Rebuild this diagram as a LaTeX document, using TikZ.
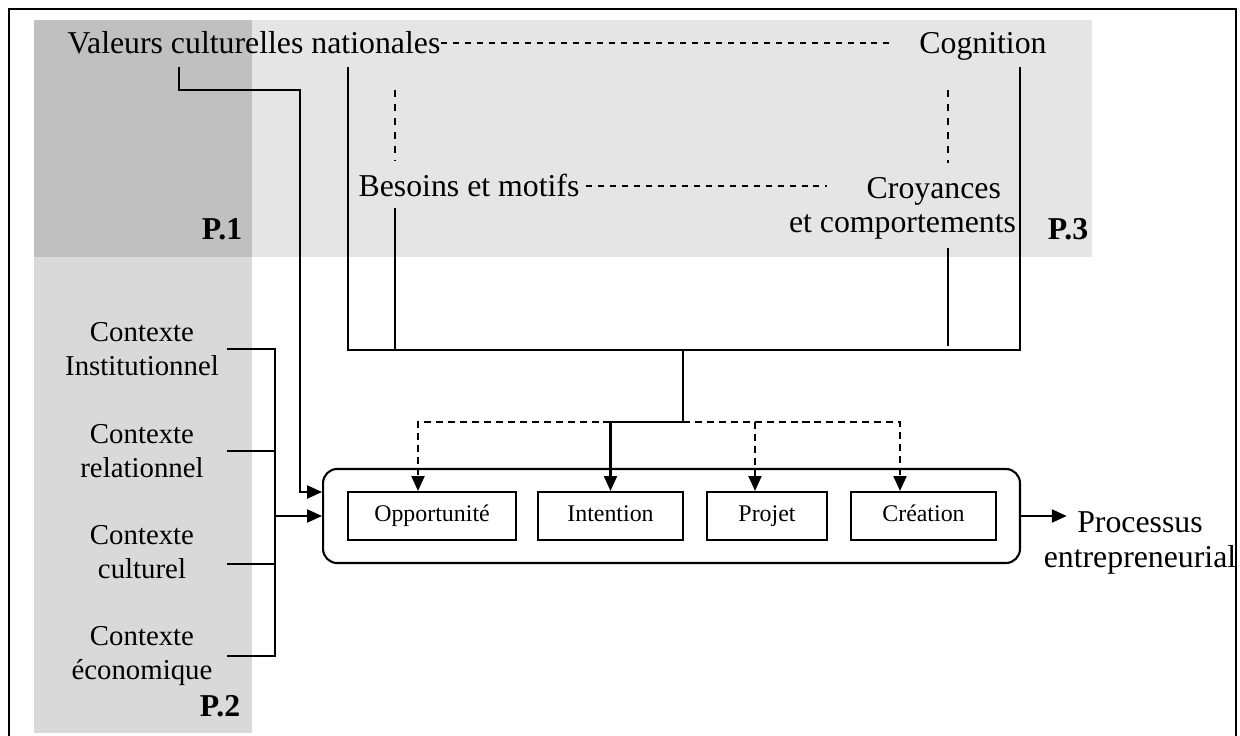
\documentclass[tikz,border=0pt]{standalone}
\usepackage{fontspec}
\setmainfont{Liberation Serif}
\usetikzlibrary{arrows.meta,positioning}

\definecolor{grisfonce}{HTML}{C0C0C0}
\definecolor{grismoyen}{HTML}{D9D9D9}
\definecolor{grisclair}{HTML}{E5E5E5}

\begin{document}
\begin{tikzpicture}[x=0.02cm, y=-0.02cm, line width=1.2pt,
  grand/.style={inner sep=0pt, font=\fontsize{18.1}{19.8}\selectfont},
  moyen/.style={inner sep=0pt, align=center, minimum width=3.36cm, font=\fontsize{16.4}{19.3}\selectfont},
  etape/.style={draw, inner sep=0pt, minimum height=0.96cm, text height=0.7em, text depth=0.05em, font=\fontsize{13.6}{16}\selectfont},
  marque/.style={inner sep=0pt, font=\bfseries\fontsize{18.1}{19.8}\selectfont},
  fleche/.style={-{Triangle[length=8.5pt,width=7.4pt]}},
  tirets/.style={dash pattern=on 4pt off 2.8pt},
  pointille/.style={line width=1pt, dash pattern=on 3.4pt off 3.4pt},
  pointillev/.style={line width=1pt, dash pattern=on 4pt off 4pt}]
\useasboundingbox (0,0) rectangle (1240,736);

% fonds
\fill[grisfonce] (34,20) rectangle (252,257);
\fill[grisclair] (252,20) rectangle (1092,257);
\fill[grismoyen] (34,257) rectangle (252,733);
\draw[line width=1.2pt] (9,740) -- (9,9) -- (1236,9) -- (1236,740);

\node[grand, anchor=base] (val) at (254,54) {Valeurs culturelles nationales};
\node[grand, anchor=base] (cog) at (983,54) {Cognition};
\node[grand, anchor=base] (bes) at (469,197) {Besoins et motifs};
\node[grand, align=right, anchor=north east] (croy) at (1017,176) {Croyances\hspace*{0.3cm}\\et comportements};

\node[marque, anchor=base] (p1) at (222,240) {P.1};
\node[marque, anchor=base] (p2) at (220,716) {P.2};
\node[marque, anchor=base] (p3) at (1068,240) {P.3};

\node[moyen, anchor=north] (ctxA) at (142,321) {Contexte\\Institutionnel};
\node[moyen, anchor=north] (ctxB) at (142,423) {Contexte\\relationnel};
\node[moyen, anchor=north] (ctxC) at (142,524) {Contexte\\culturel};
\node[moyen, anchor=north] (ctxD) at (142,625) {Contexte\\économique};

\node[draw, rounded corners=0.28cm, minimum width=13.94cm, minimum height=1.88cm] (proc) at (671.5,516) {};
\node[etape, minimum width=3.36cm] (opp) at (432,516) {Opportunité};
\node[etape, minimum width=2.9cm] (int) at (610.5,516) {Intention};
\node[etape, minimum width=2.4cm] (proj) at (767,516) {Projet};
\node[etape, minimum width=2.9cm] (crea) at (923.5,516) {Création};
\node[grand, align=center, anchor=north] (out) at (1140,511) {Processus\\entrepreneurial};

\coordinate (valA) at (179,67);
\coordinate (valC) at (300,90);
\coordinate (valB) at (348,67);
\coordinate (cogA) at (1020,67);
\coordinate (besA) at (395,208);
\coordinate (croyA) at (948,248);
\coordinate (busL) at (348,350);
\coordinate (busR) at (1020,350);
\coordinate (busM) at (683,350);
\coordinate (split) at (683,422);
\coordinate (ctxJ) at (275,516);
\coordinate (dvA) at (395,90);
\coordinate (dvB) at (948,90);

% pointilles du haut
\draw[pointille, shorten >=0.48cm] (val.east) -- (val.east -| cog.west);
\draw[pointille, shorten <=0.12cm, shorten >=1.5cm] (bes.east) -- (bes.east -| croy.north);
\draw[pointillev, shorten >=0.26cm] (dvA) -- (dvA |- bes.north);
\draw[pointillev, shorten >=0.26cm] (dvB) -- (dvB |- croy.north);

% liens vers le processus
\draw (valB) -- (busL) -- (busR) -- (cogA);
\draw (besA) -- (besA |- busL);
\draw[shorten >=0.08cm] (croyA) -- (croyA |- busL);
\draw[fleche] (busM) -- (split) -| (int.north);
\draw[fleche, tirets] (int.north |- split) -| ([xshift=-0.28cm]opp.north);
\draw[fleche, tirets] (split) -| ([xshift=-0.47cm]crea.north);
\draw[fleche, tirets] ([xshift=-0.24cm]proj.north |- split) -- ([xshift=-0.24cm]proj.north);
\draw[fleche] (valA) |- (valC) |- ([yshift=0.48cm]proc.west);

\draw (ctxA.east) -| (ctxJ);
\draw (ctxD.east) -| (ctxJ);
\draw (ctxB.east) -- (ctxB.east -| ctxJ);
\draw ([yshift=-0.25cm]ctxC.east) -- ([yshift=-0.25cm]ctxC.east -| ctxJ);
\draw[fleche] (ctxJ) -- (proc.west);
\draw[fleche, shorten >=-0.48cm] (proc.east) -- (proc.east -| out.west);
\end{tikzpicture}
\end{document}
